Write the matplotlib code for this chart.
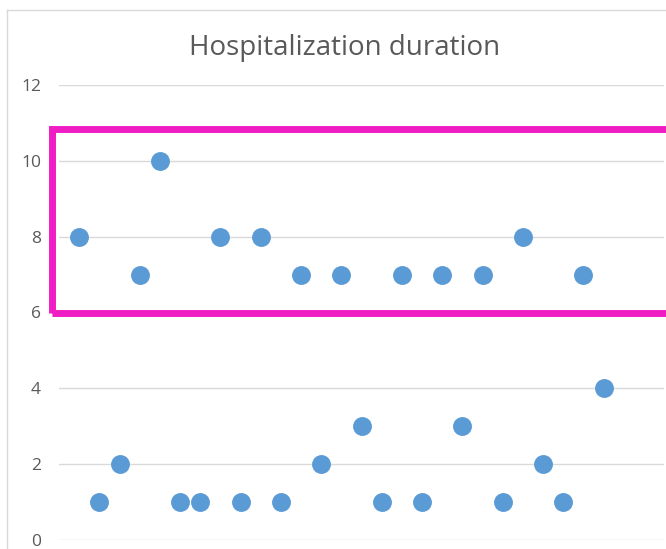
import matplotlib
matplotlib.use("Agg")
import matplotlib.pyplot as plt
from matplotlib.patches import Rectangle
from matplotlib.lines import Line2D

# Patient index and length of stay (days)
patient = list(range(1, 28))
days = [8, 1, 2, 7, 10, 1, 1, 8, 1, 8, 1, 7, 2, 7, 3, 1, 7, 1, 7, 3, 7, 1, 8, 2, 1, 7, 4]
y_ticks = [0, 2, 4, 6, 8, 10, 12]
title = "Hospitalization duration"

W, H = 666, 549
fig = plt.figure(figsize=(W / 100, H / 100), dpi=100)
fig.patch.set_facecolor("white")

ax = fig.add_axes([59 / W, (H - 540) / H, 605 / W, 455 / H])
ax.set_xlim(0, 30)
ax.set_ylim(0, 12)
ax.set_yticks(y_ticks)
ax.set_xticks([])
ax.grid(axis="y", color="#D9D9D9", linewidth=1)
ax.set_axisbelow(True)
for s in ax.spines.values():
    s.set_visible(False)
ax.tick_params(axis="y", length=0, pad=13, labelsize=12.5, labelcolor="#595959")
for lbl in ax.get_yticklabels():
    lbl.set_fontfamily("Open Sans")

ax.scatter(patient, days, s=185, color="#5B9BD5", zorder=3, linewidths=0)

# highlight box around the longer stays
ax.add_patch(Rectangle((-0.37, 6.0), 30.55, 4.84, fill=False, edgecolor="#F01DC4",
                       linewidth=5, clip_on=False, zorder=4))

# chart frame
fig.add_artist(Line2D([7 / W, 7 / W], [0, 1 - 10 / H], color="#D9D9D9", linewidth=1))
fig.add_artist(Line2D([7 / W, 1], [1 - 10 / H, 1 - 10 / H], color="#D9D9D9", linewidth=1))

fig.text(345 / W, 1 - 55 / H, title, ha="center", va="baseline", fontsize=20,
         color="#595959", fontfamily="Open Sans")

fig.savefig("out.png", dpi=100)
